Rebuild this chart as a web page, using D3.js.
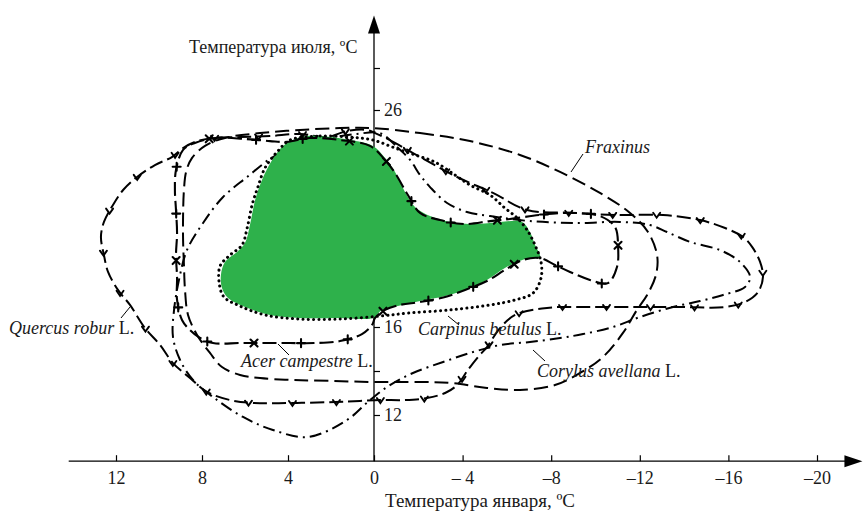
<!DOCTYPE html>
<html><head><meta charset="utf-8">
<script src="https://cdn.jsdelivr.net/npm/d3@7/dist/d3.min.js"></script>
<style>body{margin:0;background:#fff}svg{display:block}</style>
</head><body><svg id="c" width="864" height="514"></svg>
<script>
// Axis ticks
const xTicks = [12, 8, 4, 0, -4, -8, -12, -16, -20];
const yTicks = [28, 26, 20, 16, 14, 12];
const yTickLabels = [26, 20, 16, 12];

// [January temp, July temp] outlines
const optimum = [[3.12,24.76],[2.05,24.71],[1.12,24.57],[0.05,24.29],[-0.5,23.71],[-0.95,23.05],[-1.4,22.1],[-1.85,21.38],[-2.53,20.95],[-3.43,20.67],[-4.56,20.57],[-5.69,20.67],[-6.68,20.67],[-7.04,20.19],[-7.27,19.6],[-7.49,19.08],[-6.82,18.99],[-5.91,18.59],[-5.1,18.07],[-4.11,17.63],[-3.21,17.36],[-2.08,17.14],[-1.08,16.92],[-0.36,16.75],[0.05,16.4],[1.58,16.4],[3.44,16.4],[4.84,16.53],[6.0,16.88],[6.79,17.27],[7.07,17.71],[7.12,18.29],[6.93,18.86],[6.37,19.3],[6.0,19.69],[5.77,20.52],[5.53,21.71],[5.21,22.67],[4.74,23.62],[4.23,24.29],[3.67,24.62]];

const carpinus = [[3.9,24.57],[2.51,24.76],[1.12,24.71],[0.05,24.57],[-0.95,24.19],[-1.85,23.86],[-2.75,23.52],[-3.66,22.9],[-4.33,22.43],[-5.24,21.95],[-5.91,21.33],[-6.46,20.86],[-6.91,20.29],[-7.27,19.6],[-7.54,18.86],[-7.54,18.15],[-7.18,17.49],[-6.37,17.19],[-5.24,16.97],[-3.43,16.75],[-1.63,16.62],[-0.27,16.48],[1.58,16.35],[3.44,16.35],[5.07,16.53],[6.23,16.92],[6.98,17.32],[7.2,17.93],[7.16,18.68],[6.7,19.16],[6.14,19.6],[5.9,20.38],[5.67,21.48],[5.4,22.33],[5.07,23.24],[4.51,24.0]];

const acer = [[0.19,24.29],[-0.5,23.62],[-0.95,23.0],[-1.53,21.95],[-2.08,21.1],[-2.98,20.76],[-4.11,20.57],[-5.24,20.71],[-6.14,20.81],[-7.49,21.0],[-8.85,21.1],[-10.2,20.95],[-10.88,20.43],[-11.02,19.52],[-10.97,18.64],[-10.56,17.93],[-9.75,18.07],[-8.85,18.42],[-8.17,18.73],[-7.49,19.03],[-6.73,18.95],[-5.91,18.51],[-5.1,18.02],[-4.11,17.63],[-3.21,17.32],[-2.08,17.1],[-1.17,16.97],[-0.5,16.75],[-0.05,16.4],[0.09,16.09],[0.56,15.68],[1.58,15.36],[2.79,15.27],[3.9,15.27],[5.12,15.27],[6.23,15.27],[7.49,15.27],[8.09,15.5],[8.56,15.86],[8.93,16.31],[9.16,17.19],[9.16,18.2],[9.21,19.16],[9.16,20.14],[9.21,21.24],[9.26,22.19],[9.21,23.14],[8.88,24.1],[8.33,24.43],[7.4,24.67],[6.0,24.62],[4.84,24.52],[4.05,24.48],[2.98,24.67],[1.58,24.57]];

const fraxinus = [[0.05,25.14],[-2.08,24.9],[-4.33,24.52],[-6.59,23.86],[-8.4,23.05],[-10.2,22.05],[-11.56,21.1],[-12.37,20.19],[-12.78,19.16],[-12.73,18.29],[-12.33,17.41],[-11.87,16.75],[-11.24,15.73],[-10.34,14.64],[-9.3,13.91],[-8.17,13.36],[-6.59,13.14],[-5.1,13.23],[-3.57,13.45],[-2.08,13.5],[0.05,13.5],[2.05,13.55],[3.77,13.59],[5.3,13.68],[6.23,13.82],[7.07,14.18],[7.63,14.82],[8.23,15.64],[8.65,16.53],[8.79,17.63],[8.84,18.73],[8.88,19.82],[8.88,21.0],[8.84,22.19],[8.74,23.05],[8.47,23.71],[7.86,24.29],[6.93,24.67],[5.3,24.9],[3.44,25.05],[1.58,25.14]];

const quercus = [[-0.05,24.9],[-0.72,24.57],[-1.76,23.95],[-3.75,22.81],[-5.37,22.05],[-6.91,21.24],[-8.98,21.1],[-10.97,21.0],[-13.05,21.0],[-14.72,20.76],[-15.85,20.38],[-16.66,19.96],[-17.07,19.52],[-17.43,18.86],[-17.56,18.2],[-17.34,17.54],[-16.75,17.1],[-15.85,16.88],[-13.81,16.88],[-11.87,16.88],[-9.75,16.88],[-7.81,16.84],[-6.37,16.53],[-5.69,15.95],[-5.1,15.09],[-4.7,14.64],[-4.24,14.05],[-3.75,13.36],[-3.21,13.0],[-2.39,12.77],[-1.4,12.68],[-0.27,12.68],[0.65,12.64],[1.81,12.59],[3.58,12.55],[5.67,12.55],[6.7,12.68],[7.77,13.05],[8.56,13.68],[9.35,14.36],[9.95,15.18],[10.65,15.95],[11.35,16.97],[11.91,17.63],[12.37,18.42],[12.56,19.16],[12.7,19.96],[12.56,20.67],[12.14,21.48],[11.67,22.19],[11.02,22.81],[10.19,23.38],[9.4,23.76],[8.88,24.19],[8.33,24.48],[7.49,24.67],[6.23,24.71],[4.84,24.76],[3.44,24.86],[2.19,24.71],[1.26,25.0],[0.33,25.05]];

const corylus = [[-0.27,24.9],[-1.04,24.24],[-1.63,23.62],[-2.08,22.9],[-2.53,22.33],[-3.3,21.57],[-4.2,21.14],[-5.24,20.95],[-7.04,20.71],[-9.16,20.62],[-11.11,20.67],[-12.46,20.52],[-13.23,20.19],[-14.27,19.74],[-15.62,19.38],[-16.52,18.86],[-16.98,18.2],[-16.75,17.76],[-15.76,17.41],[-14.72,17.14],[-13.5,16.88],[-12.01,16.44],[-10.79,16.0],[-9.44,15.68],[-8.4,15.5],[-7.04,15.32],[-5.69,15.18],[-4.47,14.86],[-3.12,14.41],[-1.76,13.91],[-0.72,13.36],[0.19,12.68],[1.26,11.77],[3.07,11.0],[4.7,11.32],[6.09,11.91],[7.49,12.82],[8.42,13.59],[9.02,14.5],[9.35,15.55],[9.3,16.75],[9.07,18.07],[8.7,19.38],[7.95,20.62],[7.02,21.86],[5.9,22.81],[4.7,23.76],[3.44,24.33],[2.05,24.67],[0.79,24.86]];

const svg = d3.select('#c');
const FONT = '"Liberation Serif","Times New Roman",serif';
const INK = '#1a1a1a';

const x = d3.scaleLinear().domain([12, 0, -20]).range([116, 374, 817]);
const y = d3.scaleLinear().domain([26, 20, 16, 12]).range([110, 236, 327, 415]);

const xAxisY = y(9.9), yAxisX = x(0);
const line = d3.line().x(d => x(d[0])).y(d => y(d[1])).curve(d3.curveCatmullRomClosed.alpha(0.5));

// Axes
const gx = svg.append('g').attr('transform', `translate(0,${xAxisY})`)
  .call(d3.axisBottom(x).tickValues(xTicks).tickSizeInner(-6).tickSizeOuter(0).tickPadding(10)
    .tickFormat(d => d < 0 ? (d === -4 ? '\u2013 4' : '\u2013' + (-d)) : String(d)));
gx.select('.domain').remove();
gx.selectAll('line').attr('stroke', '#000').attr('stroke-width', 1.2);
gx.selectAll('text').attr('font-family', FONT).attr('font-size', 18).attr('fill', INK);

const gy = svg.append('g').attr('transform', `translate(${yAxisX},0)`)
  .call(d3.axisRight(y).tickValues(yTicks).tickSize(6).tickPadding(4)
    .tickFormat(d => yTickLabels.includes(d) ? String(d) : ''));
gy.select('.domain').remove();
gy.selectAll('line').attr('stroke', '#000').attr('stroke-width', 1.2);
gy.selectAll('text').attr('font-family', FONT).attr('font-size', 18).attr('fill', INK);

svg.append('line').attr('x1', x(14.2)).attr('x2', x(-21.4)).attr('y1', xAxisY).attr('y2', xAxisY)
  .attr('stroke', '#000').attr('stroke-width', 1.3);
svg.append('line').attr('x1', yAxisX).attr('x2', yAxisX).attr('y1', xAxisY).attr('y2', y(29.7))
  .attr('stroke', '#000').attr('stroke-width', 1.3);
const tipX = x(-22.05), tipY = y(30.5);
svg.append('path').attr('d', `M${tipX},${xAxisY} L${tipX-18},${xAxisY-6} L${tipX-18},${xAxisY+6} Z`).attr('fill', '#000');
svg.append('path').attr('d', `M${yAxisX},${tipY} L${yAxisX-6},${tipY+18} L${yAxisX+6},${tipY+18} Z`).attr('fill', '#000');

svg.append('text').attr('x', 189).attr('y', 53).attr('font-family', FONT).attr('font-size', 18).attr('fill', INK)
  .text('Температура июля, ºC');
svg.append('text').attr('x', 480).attr('y', 507).attr('text-anchor', 'middle').attr('font-family', FONT).attr('font-size', 19).attr('fill', INK)
  .text('Температура января, ºC');

// Curves
const lowerG = svg.append('g');
const fillG = svg.append('g');
const upperG = svg.append('g');

function drawCurve(g, data, dash, width, cap) {
  return g.append('path').attr('d', line(data)).attr('fill', 'none').attr('stroke', '#000')
    .attr('stroke-width', width).attr('stroke-dasharray', dash).attr('stroke-linecap', cap || 'butt')
    .attr('stroke-linejoin', 'round');
}
function addMarkers(g, p, step, offset, glyphFn, sw) {
  const node = p.node(), L = node.getTotalLength();
  let i = 0;
  for (let d = offset; d < L - step * 0.4; d += step, i++) {
    const pt = node.getPointAtLength(d);
    g.append('path').attr('d', glyphFn(i)).attr('transform', `translate(${pt.x},${pt.y})`)
      .attr('fill', 'none').attr('stroke', '#000').attr('stroke-width', sw).attr('stroke-linecap', 'round');
  }
}
const plus = 'M-4,0H4M0,-4V4';
const cross = 'M-3.5,-3.5L3.5,3.5M-3.5,3.5L3.5,-3.5';
const vee = 'M-3.5,-2L0,3L3.5,-2';

drawCurve(lowerG, fraxinus, '14,6', 2);
const pQuer = drawCurve(lowerG, quercus, '14,5', 2);
addMarkers(lowerG, pQuer, 44, 20, () => vee, 1.9);
drawCurve(lowerG, corylus, '12,5,2,5', 2);

fillG.append('path').attr('d', line(optimum)).attr('fill', '#2eb14b').attr('stroke', 'none');

drawCurve(upperG, carpinus, '0.1,5.2', 3, 'round');
const pAcer = drawCurve(upperG, acer, '14,5', 2.1);
addMarkers(upperG, pAcer, 47, 2, i => (i % 3 === 0 ? cross : plus), 2.1);

// Labels
const lab = svg.append('g').attr('font-family', FONT).attr('font-size', 18).attr('fill', INK);
function label(px, py, italic, normal) {
  const t = lab.append('text').attr('x', px).attr('y', py);
  t.append('tspan').attr('font-style', 'italic').text(italic);
  if (normal) t.append('tspan').text(normal);
}
label(585, 153, 'Fraxinus', '');
label(9, 334, 'Quercus robur', ' L.');
label(241, 367, 'Acer campestre', ' L.');
label(418, 335, 'Carpinus betulus', ' L.');
label(537, 377, 'Corylus avellana', ' L.');
const leaders = svg.append('g').attr('stroke', '#000').attr('stroke-width', 1);
[[583,154,571,172],[121,318,130,307],[278,344,289,355],[448,316,459,325],[533,350,545,361]]
  .forEach(l => leaders.append('line').attr('x1', l[0]).attr('y1', l[1]).attr('x2', l[2]).attr('y2', l[3]));
</script></body></html>
